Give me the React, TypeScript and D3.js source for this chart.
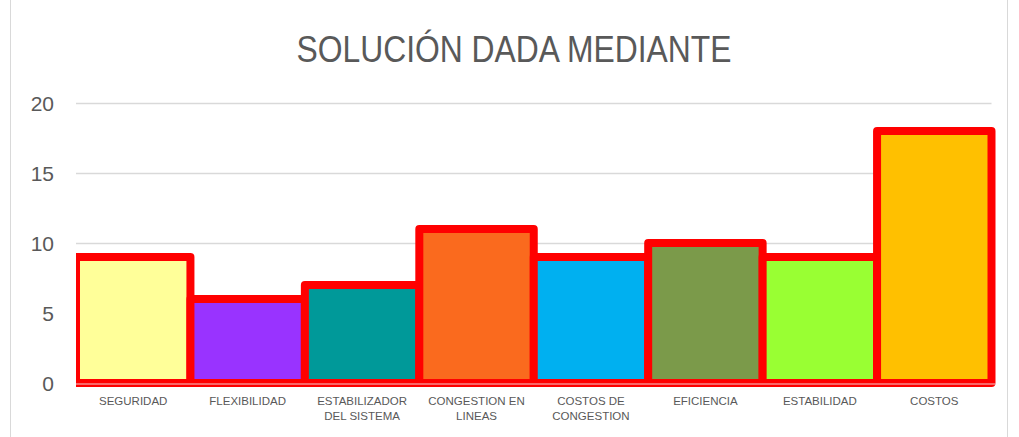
import * as d3 from "d3";
import React, { useEffect, useRef } from "react";

const categories = [
  "SEGURIDAD",
  "FLEXIBILIDAD",
  "ESTABILIZADOR DEL SISTEMA",
  "CONGESTION EN LINEAS",
  "COSTOS DE CONGESTION",
  "EFICIENCIA",
  "ESTABILIDAD",
  "COSTOS",
];
const labelLines = [
  ["SEGURIDAD"],
  ["FLEXIBILIDAD"],
  ["ESTABILIZADOR", "DEL SISTEMA"],
  ["CONGESTION EN", "LINEAS"],
  ["COSTOS DE", "CONGESTION"],
  ["EFICIENCIA"],
  ["ESTABILIDAD"],
  ["COSTOS"],
];
const values = [9, 6, 7, 11, 9, 10, 9, 18];
const fills = [
  "#FFFF99",
  "#9933FF",
  "#009999",
  "#FA6A1E",
  "#00B0F0",
  "#7B9A4A",
  "#99FF33",
  "#FFC000",
];
const yTicks = [0, 5, 10, 15, 20];
const title = "SOLUCIÓN DADA MEDIANTE";

const W = 1019;
const H = 437;
const left = 76;
const right = 991.5;
const top = 103;
const bottom = 383;

const App = () => {
  const svgRef = useRef(null);

  useEffect(() => {
    const svg = d3.select(svgRef.current);
    svg.selectAll("*").remove();

    const x = d3.scaleBand().domain(categories).range([left, right]).padding(0);
    const y = d3.scaleLinear().domain([0, 20]).range([bottom, top]);

    svg.append("rect").attr("width", W).attr("height", H).attr("fill", "#fff");

    // chart frame
    svg
      .append("rect")
      .attr("x", 10.5)
      .attr("y", -1)
      .attr("width", 997)
      .attr("height", H + 2)
      .attr("fill", "none")
      .attr("stroke", "#d9d9d9");

    svg
      .append("text")
      .text(title)
      .attr("x", 514)
      .attr("y", 62)
      .attr("text-anchor", "middle")
      .attr("textLength", 435)
      .attr("lengthAdjust", "spacingAndGlyphs")
      .style("font-family", "'Liberation Sans', Arial, sans-serif")
      .style("font-size", "37px")
      .style("fill", "#595959");

    // gridlines
    svg
      .append("g")
      .selectAll("line")
      .data(yTicks.filter((d) => d > 0))
      .join("line")
      .attr("x1", left)
      .attr("x2", right)
      .attr("y1", (d) => Math.round(y(d)) + 0.5)
      .attr("y2", (d) => Math.round(y(d)) + 0.5)
      .attr("stroke", "#d9d9d9")
      .attr("stroke-width", 1.5);

    svg
      .append("g")
      .selectAll("text")
      .data(yTicks)
      .join("text")
      .text((d) => d)
      .attr("x", 54)
      .attr("y", (d) => y(d) + 7.5)
      .attr("text-anchor", "end")
      .style("font-family", "'Liberation Sans', Arial, sans-serif")
      .style("font-size", "21px")
      .style("fill", "#595959");

    const defs = svg.append("defs");
    defs
      .append("clipPath")
      .attr("id", "plotclip")
      .append("rect")
      .attr("x", left)
      .attr("y", 0)
      .attr("width", W - left)
      .attr("height", bottom + 4);

    svg
      .append("g")
      .attr("clip-path", "url(#plotclip)")
      .selectAll("rect")
      .data(values)
      .join("rect")
      .attr("x", (_d, i) => x(categories[i]) as number)
      .attr("y", (d) => y(d))
      .attr("width", x.bandwidth())
      .attr("height", (d) => bottom - y(d))
      .attr("fill", (_d, i) => fills[i])
      .attr("stroke", "#FF0000")
      .attr("stroke-width", 8)
      .attr("stroke-linejoin", "round");

    // horizontal axis line
    svg
      .append("line")
      .attr("x1", left)
      .attr("x2", right + 4)
      .attr("y1", 384)
      .attr("y2", 384)
      .attr("stroke", "#f3d0d0")
      .attr("stroke-width", 1.2);

    const lab = svg
      .append("g")
      .selectAll("text")
      .data(categories)
      .join("text")
      .attr("text-anchor", "middle")
      .attr("x", (d) => (x(d) as number) + x.bandwidth() / 2)
      .attr("y", 405)
      .style("font-family", "'Liberation Sans', Arial, sans-serif")
      .style("font-size", "11.5px")
      .style("fill", "#595959");
    lab
      .selectAll("tspan")
      .data((_d, i) => labelLines[i])
      .join("tspan")
      .attr("x", function () {
        return d3.select((this as any).parentNode).attr("x");
      })
      .attr("dy", (_d, j) => (j === 0 ? 0 : 15))
      .text((d) => d);
  }, []);

  return (
    <svg
      ref={svgRef}
      width={W}
      height={H}
      style={{ position: "absolute", left: 0, top: 0 }}
    ></svg>
  );
};

export default App;
